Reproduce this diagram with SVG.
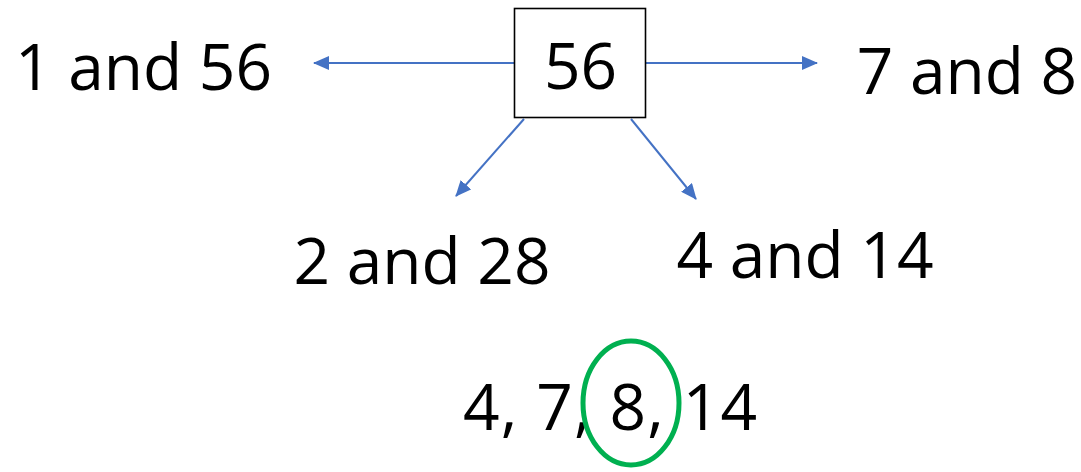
<svg xmlns="http://www.w3.org/2000/svg" width="1081" height="472" viewBox="0 0 1081 472">
<style>
.t{font-family:"Open Sans","Liberation Sans",sans-serif;font-size:64px;fill:#000;text-anchor:middle}
.c{stroke:#4472C4;stroke-width:2;fill:none;marker-end:url(#ah)}
</style>
<defs>
<marker id="ah" markerUnits="userSpaceOnUse" markerWidth="16" markerHeight="14" refX="15" refY="7" orient="auto">
<path d="M0,0 L16,7 L0,14 Z" fill="#4472C4"/>
</marker>
</defs>
<rect width="1081" height="472" fill="#fff"/>
<g id="connectors">
<line class="c" x1="514" y1="63" x2="314" y2="63"/>
<line class="c" x1="646" y1="63" x2="817" y2="63"/>
<line class="c" x1="524" y1="119" x2="456" y2="196"/>
<line class="c" x1="631" y1="119" x2="696" y2="199"/>
</g>
<g id="n56">
<rect x="514.5" y="8.5" width="131" height="109" fill="#fff" stroke="#000" stroke-width="1.6"/>
<text class="t" x="580.5" y="89">56</text>
</g>
<g id="n1and56"><text class="t" x="143.5" y="90">1 and 56</text></g>
<g id="n7and8"><text class="t" x="967" y="94">7 and 8</text></g>
<g id="n2and28"><text class="t" x="422" y="284">2 and 28</text></g>
<g id="n4and14"><text class="t" x="805" y="278">4 and 14</text></g>
<g id="list">
<text class="t" x="610" y="430" textLength="294" lengthAdjust="spacing">4, 7, 8, 14</text>
<ellipse cx="631" cy="403" rx="48" ry="62" fill="none" stroke="#00B050" stroke-width="5"/>
</g>
</svg>
